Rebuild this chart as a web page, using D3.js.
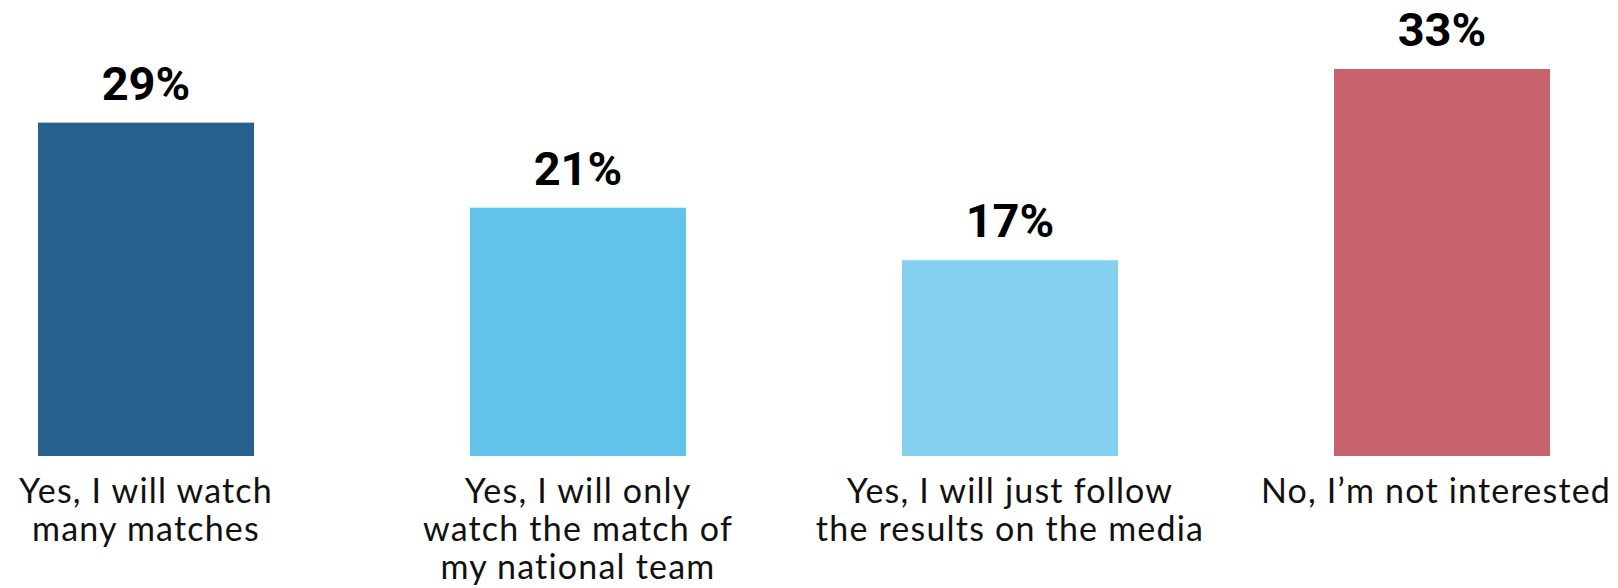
<!DOCTYPE html>
<html>
<head>
<meta charset="utf-8">
<script src="https://cdn.jsdelivr.net/npm/d3@7/dist/d3.min.js"></script>
<style>
  html, body { margin: 0; padding: 0; background: #fff; }
  svg { display: block; }
</style>
</head>
<body>
<div class="canvas"></div>
<script>
// Data
var categories = [
    'Yes, I will watch\nmany matches',
    'Yes, I will only\nwatch the match of\nmy national team',
    'Yes, I will just follow\nthe results on the media',
    'No, I\u2019m not interested'
];
var values = [28.6, 21.3, 16.8, 33.2];
var colors = ['#28618d', '#62c3eb', '#83d0ef', '#c7626e'];

// Config
var width = 1618,
    height = 588,
    baseY = 456;

var svg = d3.select('.canvas').append('svg')
    .attr('width', width)
    .attr('height', height);

var x = d3.scaleBand()
    .domain(categories)
    .range([38, 1550])
    .paddingInner(0.5)
    .paddingOuter(0);

var y = d3.scaleLinear()
    .domain([0, 33.2])
    .range([baseY, 69]);

var data = categories.map(function (c, i) {
    return {cat: c, value: values[i], color: colors[i]};
});

// Bars
svg.selectAll('rect.bar')
    .data(data)
    .enter()
    .append('rect')
    .attr('class', 'bar')
    .attr('x', function (d) { return x(d.cat); })
    .attr('y', function (d) { return y(d.value); })
    .attr('width', x.bandwidth())
    .attr('height', function (d) { return baseY - y(d.value); })
    .style('fill', function (d) { return d.color; });

// Value labels
svg.selectAll('text.value')
    .data(data)
    .enter()
    .append('text')
    .attr('class', 'value')
    .attr('x', function (d) { return x(d.cat) + x.bandwidth() / 2; })
    .attr('y', function (d) { return y(d.value) - 23; })
    .attr('text-anchor', 'middle')
    .style('font-family', 'Roboto, Arial, sans-serif')
    .style('font-weight', 'bold')
    .style('font-size', '47px')
    .style('fill', '#000')
    .text(function (d) { return Math.round(d.value) + '%'; });

// Category labels (axis)
var axis = svg.append('g')
    .attr('transform', 'translate(0,' + baseY + ')')
    .call(d3.axisBottom(x).tickSize(0).tickFormat(''));
axis.select('.domain').remove();

axis.selectAll('.tick').each(function (c, i) {
    var t = d3.select(this).append('text')
        .attr('text-anchor', 'middle')
        .attr('transform', i === categories.length - 1 ? 'translate(-6,0)' : null)
        .style('font-family', 'Lato, sans-serif')
        .style('font-size', '34px')
        .style('letter-spacing', '1.2px')
        .style('fill', '#111');
    c.split('\n').forEach(function (line, j) {
        t.append('tspan')
            .attr('x', 0)
            .attr('y', 47 + j * 38)
            .text(line);
    });
});
</script>
</body>
</html>
